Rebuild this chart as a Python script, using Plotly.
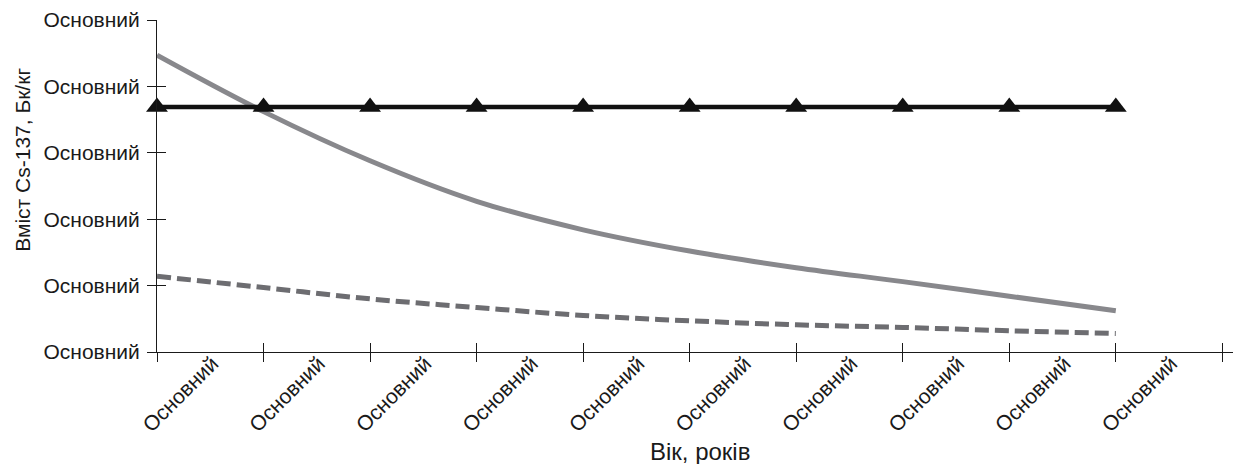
import plotly.graph_objects as go

# ---- data ----
x_pos = [0, 1, 2, 3, 4, 5, 6, 7, 8, 9]
x_labels = ["Основний"] * 10
y_labels = ["Основний"] * 6
y_ticks = [0, 1, 2, 3, 4, 5]

black_vals = [3.69, 3.69, 3.69, 3.69, 3.69, 3.69, 3.69, 3.69, 3.69, 3.69]
solid_vals = [4.47, 3.62, 2.88, 2.27, 1.84, 1.52, 1.27, 1.06, 0.84, 0.62]
dashed_vals = [1.14, 0.97, 0.80, 0.67, 0.55, 0.47, 0.41, 0.37, 0.32, 0.28]

x_title = "Вік, років"
y_title = "Вміст Cs-137, Бк/кг"

FONT = "Liberation Sans, Arial, sans-serif"

fig = go.Figure()

fig.add_trace(go.Scatter(
    x=x_pos, y=solid_vals, mode="lines", line=dict(color="#88888c", width=5, shape="spline"),
    showlegend=False, hoverinfo="skip"))
fig.add_trace(go.Scatter(
    x=x_pos, y=dashed_vals, mode="lines", line=dict(color="#6d6d71", width=5, dash="14px,6px", shape="spline"),
    showlegend=False, hoverinfo="skip"))
fig.add_trace(go.Scatter(
    x=x_pos, y=black_vals, mode="lines+markers", line=dict(color="#111111", width=4.5),
    marker=dict(symbol="triangle-up", size=19, color="#111111"),
    cliponaxis=False, showlegend=False, hoverinfo="skip"))

x_range = [0, 10.1]

fig.update_layout(
    width=1233, height=464,
    margin=dict(l=157, r=0, t=20, b=111.5),
    paper_bgcolor="white", plot_bgcolor="white",
    font=dict(family=FONT, size=21, color="#1a1a1a"),
    xaxis=dict(
        range=x_range, tickmode="array", tickvals=[v + 0.5 for v in x_pos], ticktext=x_labels,
        tickangle=-45, ticks="", showline=True, linecolor="#1a1a1a", linewidth=1,
        showgrid=False, zeroline=False, tickfont=dict(size=21), ticklabelstandoff=-10,
        ticklabelshift=2,
        minor=dict(tickmode="array", tickvals=list(range(0, 11)), ticks="outside", ticklen=9,
                   tickcolor="#1a1a1a", tickwidth=1, showgrid=False),
    ),
    xaxis2=dict(
        range=x_range, overlaying="x", anchor="y", side="bottom", tickmode="array",
        tickvals=list(range(0, 11)), ticks="inside", ticklen=9, tickcolor="#1a1a1a",
        showticklabels=False, showgrid=False, zeroline=False, showline=False,
    ),
    yaxis=dict(
        range=[0, 5], tickmode="array", tickvals=y_ticks, ticktext=y_labels,
        ticks="outside", ticklen=9, tickcolor="#1a1a1a", showline=True, linecolor="#1a1a1a",
        linewidth=1, showgrid=False, zeroline=False, tickfont=dict(size=21), ticklabelstandoff=3,
    ),
    yaxis2=dict(
        range=[0, 5], overlaying="y", anchor="x", side="left", tickmode="array",
        tickvals=y_ticks, ticks="inside", ticklen=9, tickcolor="#1a1a1a",
        showticklabels=False, showgrid=False, zeroline=False, showline=False,
    ),
    annotations=[
        dict(text=x_title, xref="paper", yref="paper", x=(700 - 157) / 1076, y=-(452 - 352.5) / 332.5,
             xanchor="center", yanchor="middle", showarrow=False, font=dict(size=24, family=FONT)),
        dict(text=y_title, xref="paper", yref="paper", x=-(157 - 23) / 1076, y=(352.5 - 160) / 332.5,
             xanchor="center", yanchor="middle", textangle=-90, showarrow=False,
             font=dict(size=21, family=FONT)),
    ],
)

# dummy trace to activate overlay axes
fig.add_trace(go.Scatter(x=[None], y=[None], xaxis="x2", yaxis="y2", showlegend=False, hoverinfo="skip"))

fig.write_html("out.html")
